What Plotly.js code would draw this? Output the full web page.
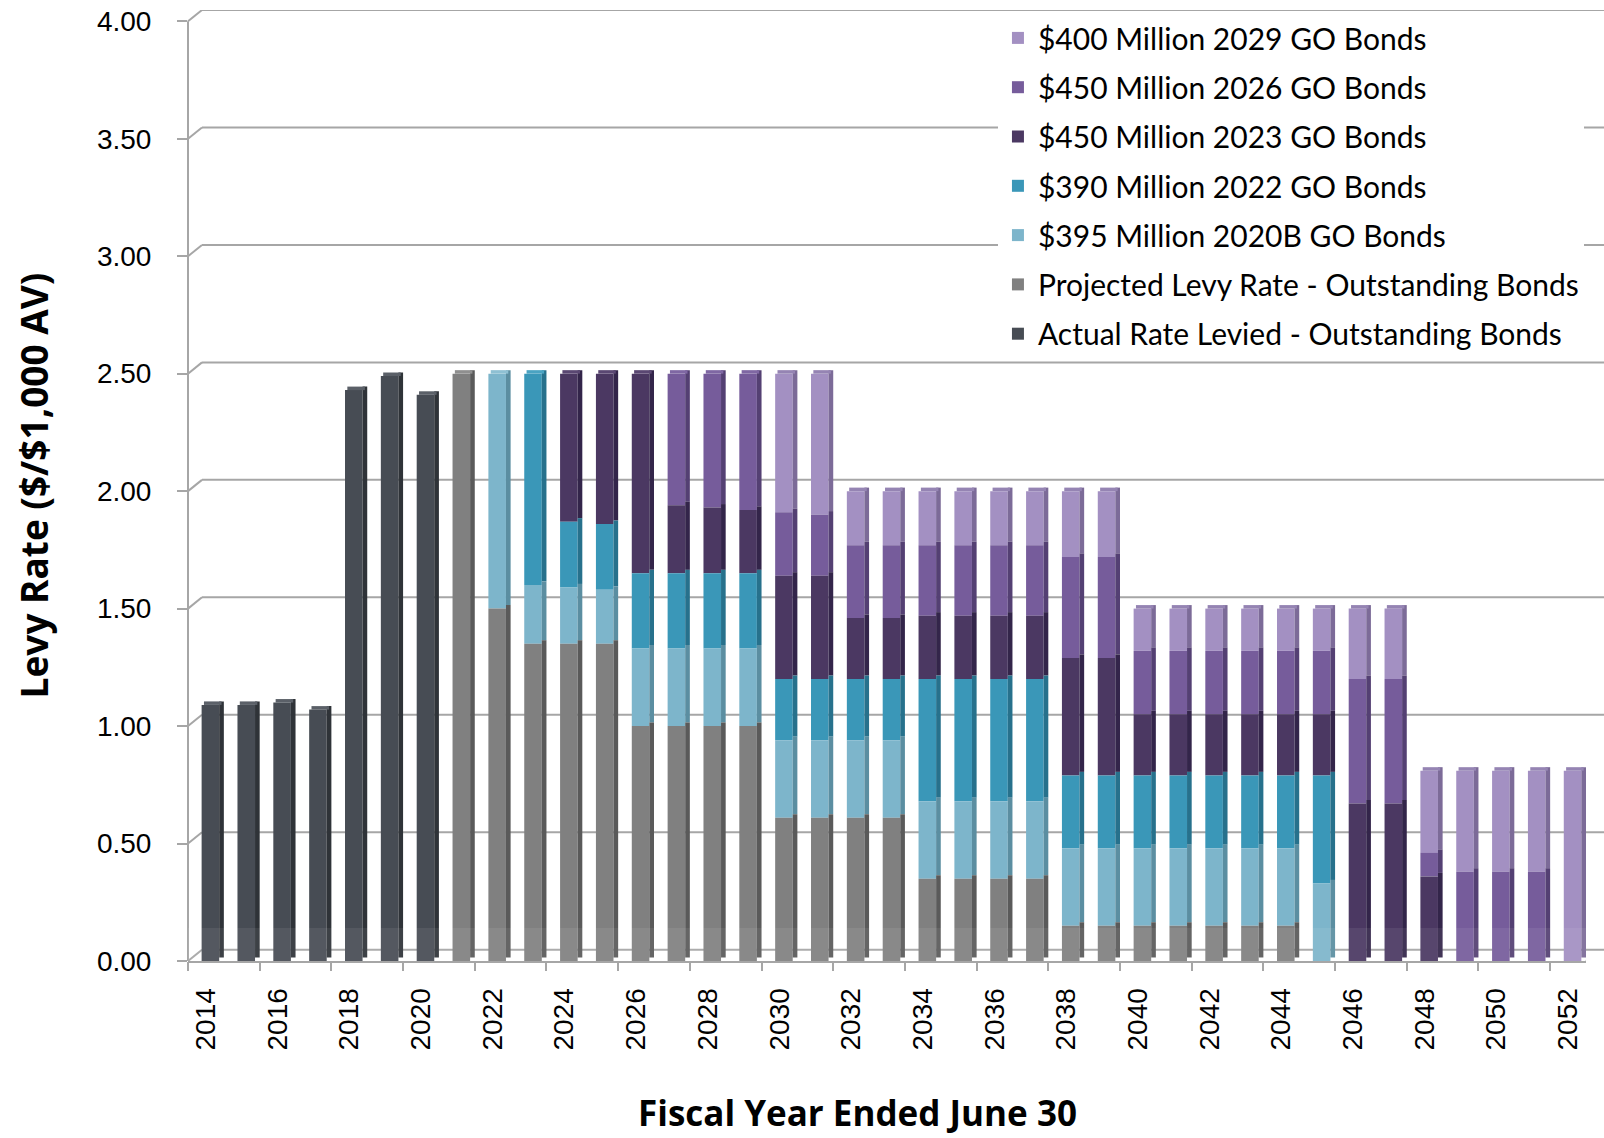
<!DOCTYPE html>
<html>
<head>
<meta charset="utf-8">
<script src="https://cdn.plot.ly/plotly-3.0.1.min.js"></script>
<style>
  html, body { margin: 0; padding: 0; background: #ffffff; }
  #chart { width: 1604px; height: 1138px; }
</style>
</head>
<body>
<div id="chart"></div>
<script>
// Fiscal years (ended June 30)
const years = [2014, 2015, 2016, 2017, 2018, 2019, 2020, 2021, 2022, 2023,
               2024, 2025, 2026, 2027, 2028, 2029, 2030, 2031, 2032, 2033,
               2034, 2035, 2036, 2037, 2038, 2039, 2040, 2041, 2042, 2043,
               2044, 2045, 2046, 2047, 2048, 2049, 2050, 2051, 2052];

// Levy rate components, $ per $1,000 assessed value (stacked bottom to top)
const actualRate = [1.09, 1.09, 1.10, 1.07, 2.43, 2.49, 2.41, 0, 0, 0,
                    0, 0, 0, 0, 0, 0, 0, 0, 0, 0,
                    0, 0, 0, 0, 0, 0, 0, 0, 0, 0,
                    0, 0, 0, 0, 0, 0, 0, 0, 0];
const projectedRate = [0, 0, 0, 0, 0, 0, 0, 2.50, 1.50, 1.35,
                       1.35, 1.35, 1.00, 1.00, 1.00, 1.00, 0.61, 0.61, 0.61, 0.61,
                       0.35, 0.35, 0.35, 0.35, 0.15, 0.15, 0.15, 0.15, 0.15, 0.15,
                       0.15, 0, 0, 0, 0, 0, 0, 0, 0];
const bonds2020B = [0, 0, 0, 0, 0, 0, 0, 0, 1.00, 0.25,
                    0.24, 0.23, 0.33, 0.33, 0.33, 0.33, 0.33, 0.33, 0.33, 0.33,
                    0.33, 0.33, 0.33, 0.33, 0.33, 0.33, 0.33, 0.33, 0.33, 0.33,
                    0.33, 0.33, 0, 0, 0, 0, 0, 0, 0];
const bonds2022 = [0, 0, 0, 0, 0, 0, 0, 0, 0, 0.90,
                   0.28, 0.28, 0.32, 0.32, 0.32, 0.32, 0.26, 0.26, 0.26, 0.26,
                   0.52, 0.52, 0.52, 0.52, 0.31, 0.31, 0.31, 0.31, 0.31, 0.31,
                   0.31, 0.46, 0, 0, 0, 0, 0, 0, 0];
const bonds2023 = [0, 0, 0, 0, 0, 0, 0, 0, 0, 0,
                   0.63, 0.64, 0.85, 0.29, 0.28, 0.27, 0.44, 0.44, 0.26, 0.26,
                   0.27, 0.27, 0.27, 0.27, 0.50, 0.50, 0.26, 0.26, 0.26, 0.26,
                   0.26, 0.26, 0.67, 0.67, 0.36, 0, 0, 0, 0];
const bonds2026 = [0, 0, 0, 0, 0, 0, 0, 0, 0, 0,
                   0, 0, 0, 0.56, 0.57, 0.58, 0.27, 0.26, 0.31, 0.31,
                   0.30, 0.30, 0.30, 0.30, 0.43, 0.43, 0.27, 0.27, 0.27, 0.27,
                   0.27, 0.27, 0.53, 0.53, 0.10, 0.38, 0.38, 0.38, 0];
const bonds2029 = [0, 0, 0, 0, 0, 0, 0, 0, 0, 0,
                   0, 0, 0, 0, 0, 0, 0.59, 0.60, 0.23, 0.23,
                   0.23, 0.23, 0.23, 0.23, 0.28, 0.28, 0.18, 0.18, 0.18, 0.18,
                   0.18, 0.18, 0.30, 0.30, 0.35, 0.43, 0.43, 0.43, 0.81];

const seriesNames = [
  'Actual Rate Levied - Outstanding Bonds',
  'Projected Levy Rate - Outstanding Bonds',
  '$395 Million 2020B GO Bonds',
  '$390 Million 2022 GO Bonds',
  '$450 Million 2023 GO Bonds',
  '$450 Million 2026 GO Bonds',
  '$400 Million 2029 GO Bonds'
];
const seriesValues = [actualRate, projectedRate, bonds2020B, bonds2022, bonds2023, bonds2026, bonds2029];

const yTicks = [0, 0.5, 1, 1.5, 2, 2.5, 3, 3.5, 4];

// Colours: front face, shaded side face, top cap
const faceColors = ['#474c54', '#808080', '#7db5cb', '#3a97b8', '#4b3862', '#765c9b', '#a390c2'];
const sideColors = ['#2f3338', '#5a5a5a', '#5b8ea1', '#27718c', '#33254a', '#544073', '#7c6b98'];
const capColors  = ['#5b6068', '#8f8f8f', '#8ec0d3', '#4aa3c2', '#5a4772', '#7f67a3', '#9584b3'];

// Pseudo-3D column geometry (x in category units, y in value units)
const FACE_OFFSET = -0.12, FACE_WIDTH = 0.49;
const SIDE_OFFSET = 0.37, SIDE_WIDTH = 0.13;
const DEPTH_Y = 0.015;
// Back-wall offset of the gridlines
const PLOT_W = 1416, WALL_DX = 14 / PLOT_W, WALL_DY = 0.048;
const X_DOMAIN_END = 1398 / PLOT_W;

const lineGrey = '#a6a6a6';

// Stack bases, bottom series first
const bases = [];
const totals = years.map(() => 0);
seriesValues.forEach(vals => {
  bases.push(totals.slice());
  vals.forEach((v, i) => { totals[i] += v; });
});

// Traces are added top series first so the legend lists the newest issue on top
const traces = [];
for (let s = seriesValues.length - 1; s >= 0; s--) {
  const vals = seriesValues[s];
  const base = bases[s];
  traces.push({
    type: 'bar', name: seriesNames[s], legendgroup: 'g' + s,
    x: years, y: vals, base: base,
    offset: FACE_OFFSET, width: FACE_WIDTH,
    marker: { color: faceColors[s], line: { width: 0 } },
    hovertemplate: '%{x}: %{y:.2f}<extra>' + seriesNames[s] + '</extra>'
  });
  traces.push({
    type: 'bar', showlegend: false, legendgroup: 'g' + s,
    x: years, y: vals, base: base.map(b => b + DEPTH_Y),
    offset: SIDE_OFFSET, width: SIDE_WIDTH,
    marker: { color: sideColors[s], line: { width: 0 } },
    hoverinfo: 'skip'
  });
  // Top cap where this series is the uppermost segment of the column
  const capH = vals.map((v, i) => {
    if (v <= 0) return 0;
    for (let k = s + 1; k < seriesValues.length; k++) if (seriesValues[k][i] > 0) return 0;
    return DEPTH_Y;
  });
  traces.push({
    type: 'bar', showlegend: false, legendgroup: 'g' + s,
    x: years, y: capH, base: totals.slice(),
    offset: FACE_OFFSET + 0.065, width: FACE_WIDTH,
    marker: { color: capColors[s], line: { width: 0 } },
    hoverinfo: 'skip'
  });
}

// Empty trace that carries the tick-mark axis
traces.push({ type: 'scatter', x: [], y: [], xaxis: 'x3', yaxis: 'y', showlegend: false, hoverinfo: 'skip' });

// Back-wall gridlines and their slanted joins to the value axis
const shapes = [];
yTicks.forEach(v => {
  shapes.push({ type: 'line', layer: 'below', xref: 'paper', yref: 'y',
    x0: WALL_DX, x1: 1, y0: v + WALL_DY, y1: v + WALL_DY,
    line: { color: lineGrey, width: 2 } });
  shapes.push({ type: 'line', layer: 'below', xref: 'paper', yref: 'y',
    x0: 0, x1: WALL_DX, y0: v, y1: v + WALL_DY,
    line: { color: lineGrey, width: 2 } });
});
// Value axis line
shapes.push({ type: 'line', layer: 'below', xref: 'paper', yref: 'y',
  x0: 0, x1: 0, y0: 0, y1: yTicks[yTicks.length - 1],
  line: { color: lineGrey, width: 2 } });
// Right edge of the floor
const xEnd = years[years.length - 1] + 0.5;
shapes.push({ type: 'line', layer: 'below', xref: 'x', yref: 'y',
  x0: xEnd, x1: xEnd + 14 / 35.85, y0: 0, y1: WALL_DY,
  line: { color: lineGrey, width: 2 } });
// Faint floor sheen over the foot of the columns
shapes.push({ type: 'rect', layer: 'above', xref: 'paper', yref: 'y',
  x0: 0, x1: X_DOMAIN_END, y0: 0, y1: 0.14,
  fillcolor: 'rgba(255,255,255,0.07)', line: { width: 0 } });

const labelYears = years.filter(y => y % 2 === 0);
const tickMarks = labelYears.map(y => y - 0.5);

const tickFont = { family: 'Liberation Sans, Arial, sans-serif', size: 28, color: '#000000' };
const yTitleFont = { family: 'Open Sans, sans-serif', size: 37, color: '#000000', weight: 700 };
const xTitleFont = { family: 'Open Sans, sans-serif', size: 35, color: '#000000', weight: 700 };

const layout = {
  width: 1604, height: 1138,
  margin: { l: 188, r: 0, t: 10, b: 177 },
  paper_bgcolor: '#ffffff', plot_bgcolor: 'rgba(0,0,0,0)',
  barmode: 'overlay',
  showlegend: true,
  xaxis: {
    domain: [0, X_DOMAIN_END], range: [years[0] - 0.5, xEnd],
    tickvals: labelYears, ticktext: labelYears.map(String),
    tickangle: -90, ticks: '', ticklabelstandoff: 14,
    showline: true, linecolor: lineGrey, linewidth: 2,
    showgrid: false, zeroline: false, tickfont: tickFont, fixedrange: true
  },
  xaxis3: {
    overlaying: 'x', anchor: 'y', range: [years[0] - 0.5, xEnd],
    tickvals: tickMarks, ticks: 'outside', ticklen: 9, tickwidth: 2, tickcolor: lineGrey,
    showticklabels: false, showgrid: false, showline: false, zeroline: false
  },
  yaxis: {
    range: [0, 4.048], tickvals: yTicks, tickformat: '.2f',
    ticks: 'outside', ticklen: 10, tickwidth: 2, tickcolor: lineGrey,
    ticklabelstandoff: 20,
    showgrid: false, zeroline: false, showline: false,
    tickfont: tickFont, fixedrange: true,
    title: { text: 'Levy Rate ($/$1,000 AV)', font: yTitleFont, standoff: 36 }
  },
  legend: {
    x: 0.572, xanchor: 'left', y: 0.998, yanchor: 'top',
    bgcolor: '#ffffff', borderwidth: 0,
    traceorder: 'grouped', tracegroupgap: 7.3,
    font: { family: 'Lato, sans-serif', size: 30, color: '#000000' }
  },
  annotations: [{
    text: 'Fiscal Year Ended June 30', showarrow: false,
    xref: 'paper', yref: 'paper', x: 0.4728, y: -0.159,
    xanchor: 'center', yanchor: 'middle', font: xTitleFont
  }],
  shapes: shapes
};

Plotly.newPlot('chart', traces, layout, { displayModeBar: false, staticPlot: true });
</script>
</body>
</html>
